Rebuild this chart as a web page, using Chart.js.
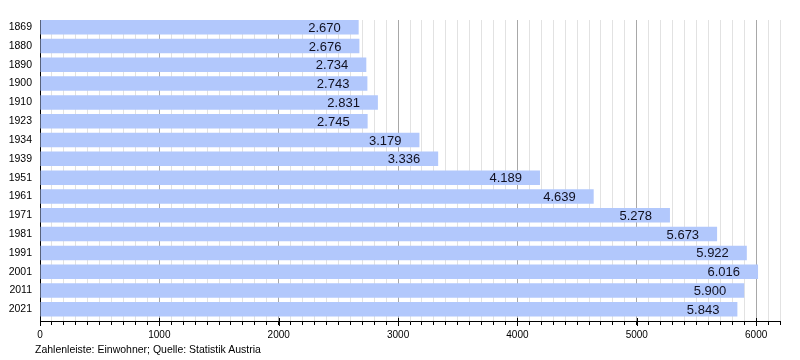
<!DOCTYPE html>
<html>
<head>
<meta charset="utf-8">
<script src="https://cdn.jsdelivr.net/npm/chart.js@4"></script>
<style>
  html, body { margin: 0; padding: 0; background: #fff; }
  #wrap { position: relative; width: 800px; height: 360px; }
  #caption { position: absolute; left: 35px; top: 343px; font: 10.5px "Liberation Sans", Arial, sans-serif; color: #000; white-space: nowrap; }
</style>
</head>
<body>
<div id="wrap">
  <canvas id="c" width="800" height="360"></canvas>
  <div id="caption">Zahlenleiste: Einwohner; Quelle: Statistik Austria</div>
</div>
<script>
const years = ['1869','1880','1890','1900','1910','1923','1934','1939','1951','1961','1971','1981','1991','2001','2011','2021'];
const population = [2670, 2676, 2734, 2743, 2831, 2745, 3179, 3336, 4189, 4639, 5278, 5673, 5922, 6016, 5900, 5843];
const axisMax = 6200;
const axisStep = 100;
const majorStep = 1000;

const FONT = '"Liberation Sans", Arial, sans-serif';

function fmt(v) {
  return Math.floor(v / 1000) + '.' + String(v % 1000).padStart(3, '0');
}

const labelPlugin = {
  id: 'valueLabels',
  afterDatasetsDraw(chart) {
    const ctx = chart.ctx;
    const meta = chart.getDatasetMeta(0);
    ctx.save();
    ctx.font = '13px ' + FONT;
    ctx.fillStyle = '#101020';
    ctx.textAlign = 'right';
    ctx.textBaseline = 'middle';
    meta.data.forEach((bar, i) => {
      ctx.fillText(fmt(population[i]), bar.x - 18, bar.y + 1);
    });
    ctx.restore();
  }
};

const majorTickPlugin = {
  id: 'majorTicks',
  afterDraw(chart) {
    const xs = chart.scales.x;
    const ctx = chart.ctx;
    const y0 = chart.chartArea.bottom;
    ctx.save();
    ctx.strokeStyle = '#000';
    ctx.lineWidth = 1;
    xs.ticks.forEach((t) => {
      if (t.value % majorStep !== 0) return;
      const px = Math.round(xs.getPixelForValue(t.value)) + 0.5;
      ctx.beginPath();
      ctx.moveTo(px, y0 - 3);
      ctx.lineTo(px, y0 + 5);
      ctx.stroke();
    });
    ctx.restore();
  }
};

new Chart(document.getElementById('c'), {
  type: 'bar',
  data: {
    datasets: [{
      data: population.map((v, i) => ({ x: v, y: i })),
      backgroundColor: 'rgb(178,200,252)',
      borderWidth: 0,
      categoryPercentage: 1.0,
      barPercentage: 0.77,
      clip: false
    }]
  },
  options: {
    indexAxis: 'y',
    responsive: false,
    animation: false,
    devicePixelRatio: 1,
    layout: { padding: { top: 20, right: 20, left: 0, bottom: 0 } },
    plugins: { legend: { display: false }, tooltip: { enabled: false } },
    scales: {
      y: {
        type: 'linear',
        reverse: true,
        offset: false,
        min: -0.38,
        max: years.length - 0.38,
        grid: { display: false, drawTicks: false, offset: false },
        border: { color: '#000', width: 1 },
        afterBuildTicks(scale) {
          scale.ticks = years.map((_, i) => ({ value: i }));
        },
        ticks: {
          autoSkip: false,
          color: '#000',
          font: { family: FONT, size: 10.5 },
          padding: 8,
          callback: (v) => (years[Math.round(v)] !== undefined ? years[Math.round(v)] : '')
        },
        afterFit(scale) { scale.width = 40; }
      },
      x: {
        min: 0,
        max: axisMax,
        border: { color: '#000', width: 1 },
        grid: {
          color: (c) => (c.tick && c.tick.value % majorStep === 0) ? '#a8a8a8' : '#e2e2e2',
          tickColor: '#000',
          tickLength: 4,
          drawTicks: true
        },
        ticks: {
          stepSize: axisStep,
          autoSkip: false,
          maxRotation: 0,
          color: '#000',
          font: { family: FONT, size: 10 },
          padding: 4,
          callback: (v) => (v % majorStep === 0 ? String(v) : '')
        },
        afterFit(scale) { scale.height = 39; }
      }
    }
  },
  plugins: [labelPlugin, majorTickPlugin]
});
</script>
</body>
</html>
